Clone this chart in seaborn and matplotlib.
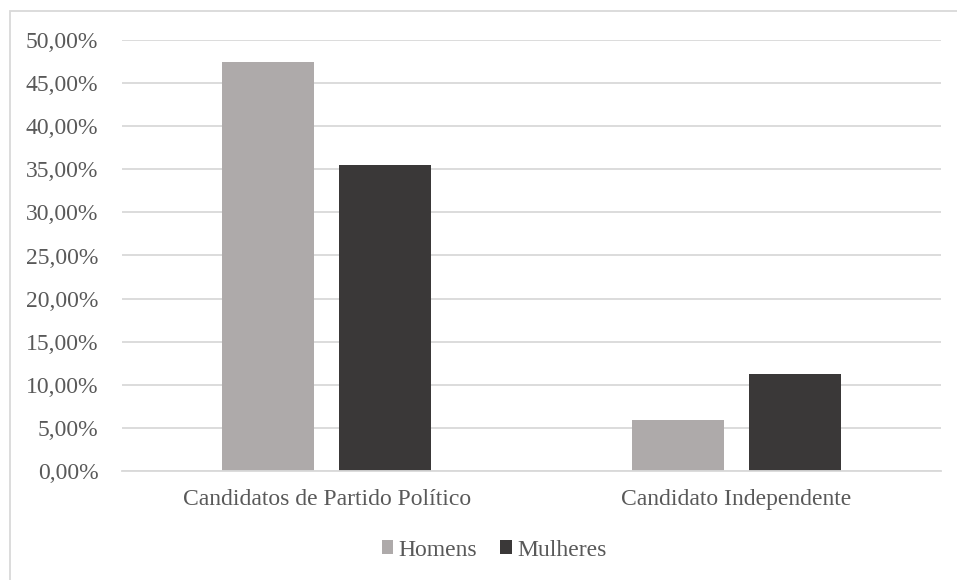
import matplotlib
matplotlib.use("Agg")
import matplotlib.pyplot as plt
from matplotlib.patches import Rectangle
from matplotlib.ticker import FuncFormatter, MultipleLocator
import seaborn as sns
import pandas as pd

categorias = ["Candidatos de Partido Político", "Candidato Independente"]
homens = [47.5, 5.9]
mulheres = [35.5, 11.25]
grupos = ["Homens", "Mulheres"]
cores = ["#AEAAAA", "#3A3838"]

df = pd.DataFrame({
    "categoria": categorias * 2,
    "valor": homens + mulheres,
    "sexo": [grupos[0]] * len(categorias) + [grupos[1]] * len(categorias),
})

sns.set_theme(style="white")
plt.rcParams["font.family"] = ["Liberation Serif", "DejaVu Serif"]
texto = "#595959"
fs = 17

fig = plt.figure(figsize=(9.57, 5.8), dpi=100)
ax = fig.add_axes([122 / 957, 109 / 580, (941 - 122) / 957, (471 - 40) / 580])

sns.barplot(data=df, x="categoria", y="valor", hue="sexo", palette=cores,
            saturation=1, width=0.5714, gap=0.2136, ax=ax, legend=True,
            linewidth=0)

ax.set_ylim(0, 50)
ax.set_xlim(-0.5, 1.5)
ax.yaxis.set_major_locator(MultipleLocator(5))
ax.yaxis.set_major_formatter(FuncFormatter(lambda v, _: f"{v:.2f}".replace(".", ",") + "%"))
ax.grid(axis="y", color="#D9D9D9", linewidth=1.3)
ax.set_axisbelow(True)
for s in ["top", "right", "left"]:
    ax.spines[s].set_visible(False)
ax.spines["bottom"].set_color("#D9D9D9")
ax.spines["bottom"].set_linewidth(1.3)
ax.tick_params(axis="y", length=0, pad=17, labelsize=fs, labelcolor=texto)
ax.tick_params(axis="x", length=0, pad=13, labelsize=fs, labelcolor=texto)
ax.set_xlabel("")
ax.set_ylabel("")

handles = ax.get_legend().legend_handles
ax.get_legend().remove()
fig.legend(handles=handles, labels=grupos,
           loc="center", bbox_to_anchor=(494 / 957, 1 - 550 / 580), ncol=2,
           frameon=False, fontsize=fs, labelcolor=texto, handlelength=0.5,
           handleheight=0.5, handletextpad=0.2, columnspacing=1.0)

fig.patches.append(Rectangle((10 / 957, -0.1), 1.2, (1 - 11 / 580) + 0.1,
                             transform=fig.transFigure, fill=False,
                             edgecolor="#D9D9D9", linewidth=1.3))

fig.savefig("out.png", dpi=100)
